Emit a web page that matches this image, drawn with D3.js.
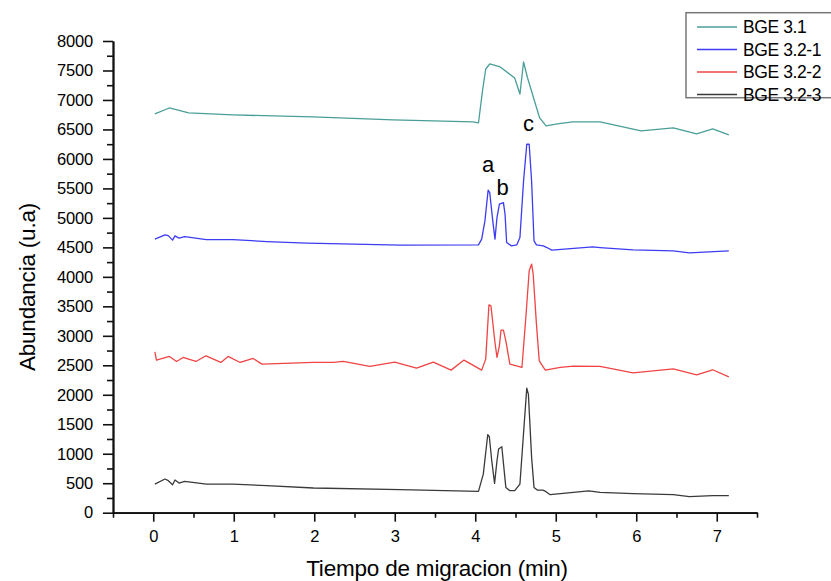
<!DOCTYPE html>
<html>
<head>
<meta charset="utf-8">
<script src="https://cdn.jsdelivr.net/npm/d3@7"></script>
<style>
  body { margin: 0; background: #fff; }
  text { font-family: "Liberation Sans", Arial, sans-serif; }
</style>
</head>
<body>
<div id="chart"></div>
<script>
var width = 831, height = 581;

// electropherogram traces: [time (min), abundance]
var bge31 = [[0.02,6763],[0.2,6864],[0.44,6780],[0.99,6746],[1.98,6712],[2.98,6661],[3.97,6627],[4.04,6610],
  [4.09,7153],[4.13,7525],[4.18,7610],[4.31,7560],[4.49,7373],[4.555,7100],[4.60,7644],[4.65,7373],[4.80,6695],
  [4.88,6560],[5.02,6593],[5.21,6627],[5.55,6627],[6.06,6475],[6.46,6525],[6.75,6424],[6.95,6508],[7.15,6407]];
var bge321 = [[0.02,4639],[0.146,4712],[0.187,4700],[0.24,4622],[0.27,4695],[0.32,4656],[0.39,4683],[0.66,4632],
  [0.99,4632],[1.41,4598],[1.91,4571],[3.07,4537],[4.04,4542],[4.08,4639],[4.12,4949],[4.16,5469],[4.18,5429],
  [4.22,4920],[4.245,4639],[4.27,5006],[4.30,5232],[4.35,5260],[4.37,5063],[4.39,4582],[4.45,4525],[4.515,4542],
  [4.555,4666],[4.60,5627],[4.64,6249],[4.67,6249],[4.70,5627],[4.73,4610],[4.76,4542],[4.845,4525],[4.89,4497],
  [4.95,4453],[5.46,4508],[5.55,4497],[5.96,4457],[6.46,4440],[6.66,4407],[7.15,4440]];
var bge322 = [[0.02,2729],[0.04,2588],[0.20,2650],[0.29,2565],[0.37,2633],[0.53,2565],[0.655,2661],[0.84,2548],
  [0.93,2650],[1.08,2548],[1.24,2616],[1.35,2520],[1.99,2548],[2.24,2548],[2.36,2565],[2.69,2480],[3.00,2554],
  [3.27,2452],[3.48,2554],[3.70,2418],[3.86,2588],[4.08,2418],[4.13,2605],[4.17,3525],[4.195,3508],[4.245,2887],
  [4.27,2633],[4.30,2831],[4.32,3096],[4.35,3096],[4.38,2915],[4.43,2520],[4.58,2463],[4.63,3339],[4.67,4102],
  [4.70,4215],[4.72,4045],[4.76,3198],[4.795,2576],[4.87,2418],[5.055,2463],[5.22,2486],[5.55,2480],[5.96,2373],
  [6.46,2440],[6.75,2339],[6.95,2424],[7.15,2305]];
var bge323 = [[0.02,486],[0.146,571],[0.187,543],[0.24,475],[0.27,554],[0.32,503],[0.39,531],[0.66,486],[0.99,486],
  [1.41,458],[1.99,419],[3.07,390],[4.04,361],[4.10,655],[4.155,1322],[4.175,1288],[4.205,881],[4.24,497],[4.27,881],
  [4.29,1080],[4.33,1119],[4.38,429],[4.43,373],[4.49,373],[4.555,486],[4.605,1446],[4.64,2113],[4.66,2011],
  [4.70,938],[4.73,429],[4.77,384],[4.84,384],[4.875,361],[4.93,305],[5.41,370],[5.55,344],[5.96,322],[6.46,305],
  [6.66,271],[6.95,288],[7.15,288]];

var seriesNames = ["BGE 3.1", "BGE 3.2-1", "BGE 3.2-2", "BGE 3.2-3"];
var seriesData = [bge31, bge321, bge322, bge323];
var seriesColors = ["#4a9e98", "#3c3cf2", "#f04444", "#3a3a3a"];

// peak labels on the BGE 3.2-1 trace
var peakLabels = ["a", "b", "c"];
var peakPos = [[4.16, 5780], [4.34, 5380], [4.66, 6480]];

var xTicks = [0, 1, 2, 3, 4, 5, 6, 7];
var yTicks = d3.range(0, 8001, 500);

var x = d3.scaleLinear().domain([-0.5, 7.5]).range([113, 757]);
var y = d3.scaleLinear().domain([0, 8000]).range([512.7, 41]);

var svg = d3.select("#chart").append("svg")
    .attr("width", width)
    .attr("height", height);

// axes
var xAxis = d3.axisBottom(x).tickValues(xTicks).tickSize(9).tickSizeOuter(0).tickPadding(9);
var xMinor = d3.axisBottom(x).tickValues(d3.range(-0.5, 7.51, 0.5).filter(function (d) { return d % 1 !== 0; }))
    .tickSize(5).tickSizeOuter(0).tickFormat("");
var yAxis = d3.axisLeft(y).tickValues(yTicks).tickSize(10).tickSizeOuter(0).tickPadding(10)
    .tickFormat(d3.format("d"));
var yMinor = d3.axisLeft(y).tickValues(d3.range(250, 8000, 500)).tickSize(6).tickSizeOuter(0).tickFormat("");

function styleAxis(g) {
    g.select(".domain").attr("stroke", "#111").attr("stroke-width", 1.8);
    g.selectAll(".tick line").attr("stroke", "#111").attr("stroke-width", 1.6);
    g.selectAll(".tick text").attr("font-size", 16.5).attr("fill", "#000")
        .attr("letter-spacing", "-0.2px")
        .style("font-family", "'Liberation Sans', Arial, sans-serif");
}

svg.append("g").attr("transform", "translate(0,512.7)").call(xMinor).call(styleAxis);
svg.append("g").attr("transform", "translate(0,512.7)").call(xAxis).call(styleAxis);
svg.append("g").attr("transform", "translate(113,0)").call(yMinor).call(styleAxis);
svg.append("g").attr("transform", "translate(113,0)").call(yAxis).call(styleAxis);

// traces
var line = d3.line()
    .x(function (d) { return x(d[0]); })
    .y(function (d) { return y(d[1]); });

svg.selectAll(".trace")
    .data(seriesData)
    .enter()
    .append("path")
    .attr("class", "trace")
    .attr("d", line)
    .attr("fill", "none")
    .attr("stroke", function (d, i) { return seriesColors[i]; })
    .attr("stroke-width", 1.3)
    .attr("stroke-linejoin", "round");

// a, b, c
svg.selectAll(".peak")
    .data(peakLabels)
    .enter()
    .append("text")
    .attr("class", "peak")
    .attr("x", function (d, i) { return x(peakPos[i][0]); })
    .attr("y", function (d, i) { return y(peakPos[i][1]); })
    .attr("text-anchor", "middle")
    .attr("font-size", 22)
    .text(function (d) { return d; });

// axis titles
svg.append("text")
    .attr("x", 437)
    .attr("y", 576)
    .attr("text-anchor", "middle")
    .attr("font-size", 22.5)
    .attr("letter-spacing", "-0.2px")
    .text("Tiempo de migracion (min)");

svg.append("text")
    .attr("transform", "translate(35,287) rotate(-90)")
    .attr("text-anchor", "middle")
    .attr("font-size", 22.5)
    .attr("letter-spacing", "-0.2px")
    .text("Abundancia (u.a)");

// legend
var legend = svg.append("g");
legend.append("rect")
    .attr("x", 686).attr("y", 12.7)
    .attr("width", 160).attr("height", 85)
    .attr("fill", "#fff")
    .attr("stroke", "#777")
    .attr("stroke-width", 1.5);

var rows = legend.selectAll(".row")
    .data(seriesNames)
    .enter()
    .append("g")
    .attr("class", "row")
    .attr("transform", function (d, i) { return "translate(0," + (27 + i * 22.5) + ")"; });

rows.append("line")
    .attr("x1", 697).attr("x2", 737)
    .attr("stroke", function (d, i) { return seriesColors[i]; })
    .attr("stroke-width", 1.3);

rows.append("text")
    .attr("x", 743)
    .attr("dy", "0.35em")
    .attr("font-size", 17.5)
    .attr("letter-spacing", "-0.4px")
    .text(function (d) { return d; });
</script>
</body>
</html>
